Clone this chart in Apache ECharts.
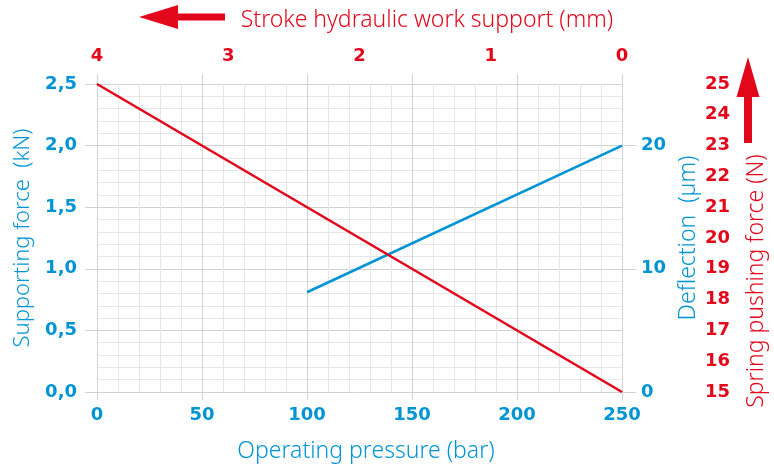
<!DOCTYPE html>
<html style="width: 100%;height:100%;">
<head>
    <meta charset="utf-8">
    <title>Work support chart</title>
    <script src="https://cdn.jsdelivr.net/npm/echarts@6/dist/echarts.js"></script>
    <style>
        body { margin: 0; background: #ffffff; }
        #chart { width: 774px; height: 466px; }
    </style>
</head>
<body>
<div id="chart"></div>
<script>
    // values
    const pressureBar = [100, 250];          // operating pressure (bar)
    const deflectionUm = [8.1, 20];          // deflection (µm)
    const strokeMm = [4, 0];                 // stroke hydraulic work support (mm)
    const springN = [25, 15];                // spring pushing force (N)

    const BLUE = '#0094d4';
    const RED = '#e2071b';
    const MAJOR = '#d2d2d2';
    const MINOR = '#e6e6e6';
    const labelFont = { fontFamily: 'DejaVu Sans', fontWeight: 'bold', fontSize: 18 };
    const nameFont = { fontFamily: 'Noto Sans', fontWeight: 300, fontSize: 23 };

    const chart = echarts.init(document.getElementById('chart'));

    const option = {
        animation: false,
        grid: { left: 97, right: 152, top: 84, bottom: 74, outerBoundsMode: 'none' },
        xAxis: [
            {
                type: 'value', position: 'bottom', min: 0, max: 250, interval: 50,
                name: 'Operating pressure (bar)', nameLocation: 'middle', nameGap: 48,
                nameTextStyle: Object.assign({ color: BLUE, padding: [0, 0, 0, 13] }, nameFont),
                axisLine: { show: false },
                axisTick: { show: true, length: 8, lineStyle: { color: MAJOR } },
                axisLabel: Object.assign({ color: BLUE, margin: 14 }, labelFont),
                splitLine: { show: true, lineStyle: { color: MAJOR, width: 1 } },
                minorTick: { show: false, splitNumber: 5 },
                minorSplitLine: { show: true, lineStyle: { color: MINOR, width: 1 } }
            },
            {
                type: 'value', position: 'top', min: 0, max: 4, interval: 1, inverse: true,
                name: 'Stroke hydraulic work support (mm)', nameLocation: 'middle', nameGap: 52,
                nameTextStyle: Object.assign({ color: RED, padding: [0, 0, 0, 135] }, nameFont),
                axisLine: { show: false },
                axisTick: { show: false },
                axisLabel: Object.assign({ color: RED, margin: 19 }, labelFont),
                splitLine: { show: false }
            },
            {
                // only carries the tick marks above the plot
                type: 'value', position: 'top', min: 0, max: 250, interval: 50,
                axisLine: { show: false },
                axisTick: { show: true, length: 10, lineStyle: { color: MAJOR } },
                axisLabel: { show: false },
                splitLine: { show: false }
            }
        ],
        yAxis: [
            {
                type: 'value', position: 'left', min: 0, max: 2.5, interval: 0.5,
                name: 'Supporting force  (kN)', nameLocation: 'middle', nameGap: 62, nameRotate: 90,
                nameTextStyle: Object.assign({ color: BLUE }, nameFont, { fontSize: 22 }),
                axisLine: { show: false },
                axisTick: { show: true, length: 12, lineStyle: { color: MAJOR } },
                axisLabel: Object.assign({
                    color: BLUE, margin: 20,
                    formatter: v => v.toFixed(1).replace('.', ',')
                }, labelFont),
                splitLine: { show: true, lineStyle: { color: MAJOR, width: 1 } },
                minorTick: { show: false, splitNumber: 5 },
                minorSplitLine: { show: true, lineStyle: { color: MINOR, width: 1 } }
            },
            {
                type: 'value', position: 'right', min: 0, max: 25, interval: 10,
                name: 'Deflection  (µm)', nameLocation: 'middle', nameGap: 51, nameRotate: 90,
                nameTextStyle: Object.assign({ color: BLUE, padding: [0, 0, 0, 0] }, nameFont),
                axisLine: { show: false },
                axisTick: { show: true, length: 14, lineStyle: { color: MAJOR } },
                axisLabel: Object.assign({ color: BLUE, margin: 19, showMaxLabel: false }, labelFont),
                splitLine: { show: false }
            },
            {
                type: 'value', position: 'right', offset: 82, min: 15, max: 25, interval: 1,
                name: 'Spring pushing force (N)', nameLocation: 'middle', nameGap: 41, nameRotate: 90,
                nameTextStyle: Object.assign({ color: RED, padding: [0, 86, 0, 0] }, nameFont),
                axisLine: { show: false },
                axisTick: { show: false },
                axisLabel: Object.assign({ color: RED, margin: 1 }, labelFont),
                splitLine: { show: false }
            }
        ],
        series: [
            {
                name: 'Deflection', type: 'line', xAxisIndex: 0, yAxisIndex: 1,
                data: pressureBar.map((p, i) => [p, deflectionUm[i]]),
                symbol: 'none', lineStyle: { color: BLUE, width: 2.6 }
            },
            {
                name: 'Spring pushing force', type: 'line', xAxisIndex: 1, yAxisIndex: 2,
                data: strokeMm.map((s, i) => [s, springN[i]]),
                symbol: 'none', lineStyle: { color: RED, width: 2.6 }
            }
        ],
        graphic: [
            {   // arrow pointing left next to the stroke title
                type: 'polygon',
                shape: { points: [[139, 17], [178, 5], [178, 13.5], [225, 13.5], [225, 20.5], [178, 20.5], [178, 29]] },
                style: { fill: RED }
            },
            {   // arrow pointing up above the spring force scale
                type: 'polygon',
                shape: { points: [[748, 57], [759.5, 97], [752, 97], [752, 143], [744, 143], [744, 97], [736.5, 97]] },
                style: { fill: RED }
            }
        ]
    };

    chart.setOption(option);
</script>
</body>
</html>
